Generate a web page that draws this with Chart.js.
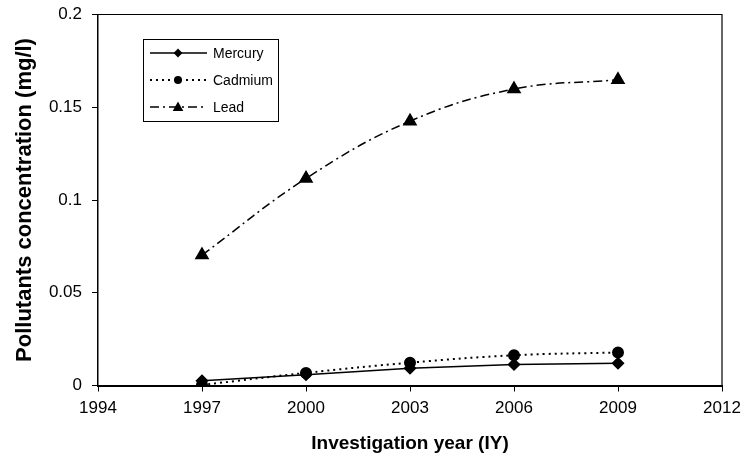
<!DOCTYPE html>
<html>
<head>
<meta charset="utf-8">
<script src="https://cdn.jsdelivr.net/npm/chart.js@4.4.0/dist/chart.umd.min.js"></script>
<style>
  html, body { margin: 0; padding: 0; background: #fff; }
  #wrap { width: 744px; height: 459px; position: relative; }
</style>
</head>
<body>
<div id="wrap"><canvas id="chart"></canvas></div>
<script>
// data
const years = [1997, 2000, 2003, 2006, 2009];
const mercury = [0.0025, 0.0058, 0.0093, 0.0113, 0.0120];
const cadmium = [0.0003, 0.0068, 0.0123, 0.0163, 0.0178];
const lead = [0.0703, 0.1116, 0.1425, 0.1598, 0.1648];
const xTicks = [1994, 1997, 2000, 2003, 2006, 2009, 2012];
const yTicks = [0, 0.05, 0.1, 0.15, 0.2];

const FONT = "'Liberation Sans', Arial, sans-serif";

const toPts = (vals) => vals.map((v, i) => ({ x: years[i], y: v }));

// draws the framed legend and the top/right border of the plot
const framePlugin = {
  id: 'frame',
  afterDraw(chart) {
    const { ctx, chartArea: a } = chart;
    ctx.save();
    ctx.strokeStyle = '#000';
    ctx.lineWidth = 1.2;
    ctx.beginPath();
    ctx.moveTo(a.left, a.top);
    ctx.lineTo(a.right, a.top);
    ctx.lineTo(a.right, a.bottom);
    ctx.stroke();

    // legend box
    const bx = 143.5, by = 39.5, bw = 135, bh = 82;
    ctx.lineWidth = 1;
    ctx.strokeRect(bx, by, bw, bh);
    const rows = [53, 80, 107];
    chart.data.datasets.forEach((ds, i) => {
      const y = rows[i];
      ctx.beginPath();
      ctx.setLineDash(ds.borderDash || []);
      ctx.lineWidth = ds.borderWidth;
      ctx.moveTo(150, y);
      ctx.lineTo(207, y);
      ctx.stroke();
      ctx.setLineDash([]);
      drawMarker(ctx, ds.pointStyle, 178, y, ds.pointRadius * 0.8);
      ctx.fillStyle = '#000';
      ctx.font = '14px ' + FONT;
      ctx.textBaseline = 'middle';
      ctx.fillText(ds.label, 213, y + 1);
    });
    ctx.restore();
  }
};

function drawMarker(ctx, style, x, y, r) {
  ctx.fillStyle = '#000';
  ctx.beginPath();
  if (style === 'rectRot') {
    ctx.moveTo(x, y - r); ctx.lineTo(x + r, y); ctx.lineTo(x, y + r); ctx.lineTo(x - r, y);
  } else if (style === 'triangle') {
    ctx.moveTo(x, y - r); ctx.lineTo(x + r * 0.95, y + r * 0.7); ctx.lineTo(x - r * 0.95, y + r * 0.7);
  } else {
    ctx.arc(x, y, r, 0, Math.PI * 2);
  }
  ctx.closePath();
  ctx.fill();
}

new Chart(document.getElementById('chart'), {
  type: 'line',
  data: {
    datasets: [
      {
        label: 'Mercury', data: toPts(mercury),
        borderColor: '#000', backgroundColor: '#000', borderWidth: 1.5,
        pointStyle: 'rectRot', pointRadius: 5.5, tension: 0
      },
      {
        label: 'Cadmium', data: toPts(cadmium),
        borderColor: '#000', backgroundColor: '#000', borderWidth: 2, borderDash: [2, 4],
        pointStyle: 'circle', pointRadius: 5, tension: 0.4
      },
      {
        label: 'Lead', data: toPts(lead),
        borderColor: '#000', backgroundColor: '#000', borderWidth: 1.5, borderDash: [9, 4, 2, 4],
        pointStyle: 'triangle', pointRadius: 7, tension: 0.4
      }
    ]
  },
  options: {
    responsive: true,
    maintainAspectRatio: false,
    animation: false,
    layout: { padding: { top: 14.5, right: 22, left: 0, bottom: 0 } },
    plugins: { legend: { display: false }, tooltip: { enabled: false } },
    scales: {
      x: {
        type: 'linear', min: 1994, max: 2012,
        afterBuildTicks: (s) => { s.ticks = xTicks.map(v => ({ value: v })); },
        afterFit: (s) => { s.height = 73.5; s.paddingLeft = 0; s.paddingRight = 0; },
        border: { color: '#000', width: 2 },
        grid: { drawOnChartArea: false, drawTicks: true, tickLength: 6, color: '#000' },
        ticks: {
          color: '#000', font: { family: FONT, size: 17 }, padding: 7, maxRotation: 0,
          callback: (v) => String(v)
        },
        title: {
          display: true, text: 'Investigation year (IY)', color: '#000',
          font: { family: FONT, size: 19, weight: 'bold' }, padding: { top: 0, bottom: 4 }
        }
      },
      y: {
        min: 0, max: 0.2,
        afterBuildTicks: (s) => { s.ticks = yTicks.map(v => ({ value: v })); },
        afterFit: (s) => { s.width = 98; s.paddingTop = 0; s.paddingBottom = 0; },
        border: { color: '#000', width: 1.5 },
        grid: { drawOnChartArea: false, drawTicks: true, tickLength: 6, color: '#000' },
        ticks: { color: '#000', font: { family: FONT, size: 17 }, padding: 10, callback: (v) => String(v) },
        title: {
          display: true, text: 'Pollutants concentration (mg/l)', color: '#000',
          font: { family: FONT, size: 22, weight: 'bold' }, padding: { top: 12, bottom: 0 }
        }
      }
    }
  },
  plugins: [framePlugin]
});
</script>
</body>
</html>
